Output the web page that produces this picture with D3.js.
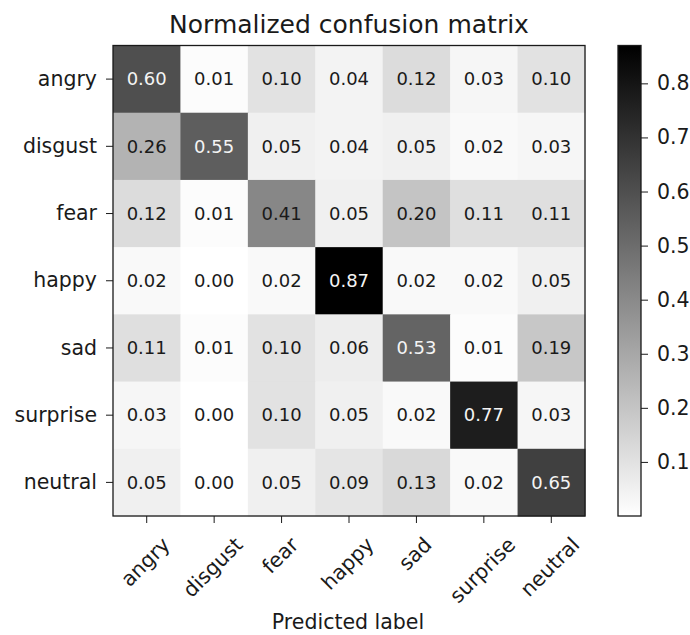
<!DOCTYPE html>
<html><head><meta charset="utf-8">
<script src="https://cdn.jsdelivr.net/npm/d3@7"></script>
<style>body{margin:0;background:#fff}text{font-family:"DejaVu Sans",sans-serif;fill:#1a1a1a}</style>
</head><body><svg id="c" width="690" height="635"></svg>
<script>
const classes = ["angry","disgust","fear","happy","sad","surprise","neutral"];
const matrix = [
  [0.60,0.01,0.10,0.04,0.12,0.03,0.10],
  [0.26,0.55,0.05,0.04,0.05,0.02,0.03],
  [0.12,0.01,0.41,0.05,0.20,0.11,0.11],
  [0.02,0.00,0.02,0.87,0.02,0.02,0.05],
  [0.11,0.01,0.10,0.06,0.53,0.01,0.19],
  [0.03,0.00,0.10,0.05,0.02,0.77,0.03],
  [0.05,0.00,0.05,0.09,0.13,0.02,0.65]
];
const cbTicks = [0.1,0.2,0.3,0.4,0.5,0.6,0.7,0.8];
const greys = ["#ffffff","#000000"];

const svg = d3.select("#c");
const L=113, T=45.5, W=472, H=470.5;
const x = d3.scaleBand().domain(classes).range([L, L+W]);
const y = d3.scaleBand().domain(classes).range([T, T+H]);
const vmin = d3.min(matrix.flat()), vmax = d3.max(matrix.flat());
const color = d3.scaleLinear().domain([vmin, vmax]).range(greys);

const cells = [];
matrix.forEach((row,i)=>row.forEach((v,j)=>cells.push({r:classes[i],c:classes[j],v})));
svg.append("g").selectAll("rect").data(cells).join("rect")
  .attr("x",d=>x(d.c)).attr("y",d=>y(d.r)).attr("width",x.bandwidth()+0.5).attr("height",y.bandwidth()+0.5)
  .attr("fill",d=>color(d.v));
const thresh = vmax/2;
svg.append("g").selectAll("text").data(cells).join("text")
  .attr("x",d=>x(d.c)+x.bandwidth()/2).attr("y",d=>y(d.r)+y.bandwidth()/2)
  .attr("text-anchor","middle").attr("dy","0.35em").style("font-size","18px")
  .style("fill",d=>d.v>thresh?"#f4f4f4":"#1a1a1a").text(d=>d.v.toFixed(2));
svg.append("rect").attr("x",L).attr("y",T).attr("width",W).attr("height",H)
  .attr("fill","none").attr("stroke","#1a1a1a").attr("stroke-width",1.3);

// y axis
const yAx = svg.append("g").attr("transform",`translate(${L},0)`)
  .call(d3.axisLeft(y).tickSize(7).tickPadding(9));
yAx.select(".domain").remove();
yAx.selectAll("text").style("font-size","20.5px").style("font-family","DejaVu Sans");
yAx.selectAll("line").attr("stroke","#1a1a1a");

// x axis
const xAx = svg.append("g").attr("transform",`translate(0,${T+H})`)
  .call(d3.axisBottom(x).tickSize(7).tickFormat(""));
xAx.select(".domain").remove();
xAx.selectAll("line").attr("stroke","#1a1a1a");
const fsX=20.5, labTop=T+H+18;
classes.forEach(c=>{
  const t = svg.append("text").style("font-size",fsX+"px").attr("text-anchor","middle").text(c);
  const w = t.node().getComputedTextLength();
  const h = fsX*0.95;
  const cx = x(c)+x.bandwidth()/2 - 1.5, cy = labTop+(w+h)/(2*Math.SQRT2);
  t.attr("x",0).attr("y",0).attr("dy","0.35em").attr("transform",`translate(${cx},${cy}) rotate(-45)`);
});

svg.append("text").attr("x",L+W/2).attr("y",33).attr("text-anchor","middle").style("font-size","25px").text("Normalized confusion matrix");
svg.append("text").attr("x",L+W/2-1).attr("y",629).attr("text-anchor","middle").style("font-size","20.5px").text("Predicted label");

// colorbar
const CX=618, CW=23, CT=45.5, CB=516;
const cs = d3.scaleLinear().domain([vmin,vmax]).range([CB,CT]);
const defs = svg.append("defs");
const grad = defs.append("linearGradient").attr("id","g").attr("x1",0).attr("x2",0).attr("y1",1).attr("y2",0);
greys.forEach((g,i)=>grad.append("stop").attr("offset",i/(greys.length-1)).attr("stop-color",g));
svg.append("rect").attr("x",CX).attr("y",CT).attr("width",CW).attr("height",CB-CT).attr("fill","url(#g)")
  .attr("stroke","#1a1a1a").attr("stroke-width",1.3);
const cAx = svg.append("g").attr("transform",`translate(${CX+CW},0)`)
  .call(d3.axisRight(cs).tickValues(cbTicks).tickSize(7).tickPadding(9).tickFormat(d3.format(".1f")));
cAx.select(".domain").remove();
cAx.selectAll("text").style("font-size","20.5px").style("font-family","DejaVu Sans");
cAx.selectAll("line").attr("stroke","#1a1a1a");
</script></body></html>
